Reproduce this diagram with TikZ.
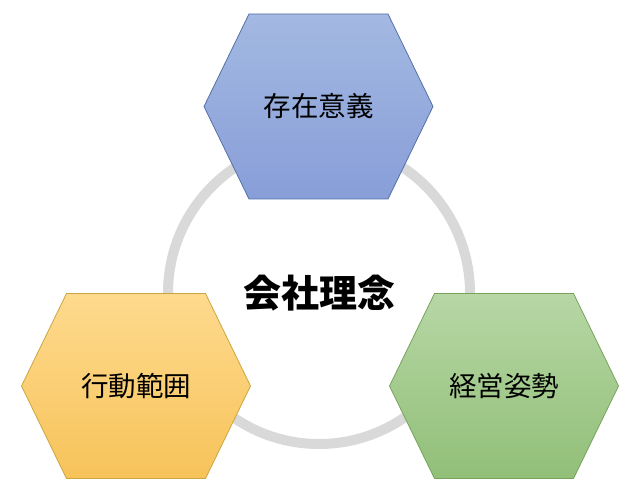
\documentclass[tikz,border=0pt]{standalone}
\usepackage{fontspec}
\newfontfamily\cjk{Noto Sans CJK JP}
\definecolor{ringgray}{HTML}{D9D9D9}
\definecolor{blueT}{HTML}{A3B9E2}
\definecolor{blueB}{HTML}{889ED8}
\definecolor{blueD}{HTML}{5470A8}
\definecolor{yelT}{HTML}{FEDA8E}
\definecolor{yelB}{HTML}{F7C35A}
\definecolor{yelD}{HTML}{C9A640}
\definecolor{grnT}{HTML}{B7D7A5}
\definecolor{grnB}{HTML}{91BF78}
\definecolor{grnD}{HTML}{77A35C}
\newcommand\myhex[7]{%
  \path[draw=#6, line width=0.8pt, top color=#4, bottom color=#5, line join=miter]
    (#1-114.5,#2) -- (#1-69.5,#2-92.5) -- (#1+69.5,#2-92.5) -- (#1+114.5,#2)
    -- (#1+69.5,#2+92.5) -- (#1-69.5,#2+92.5) -- cycle;
  \node[hexlabel] (#3) at (#1,#2) {#7};}
\tikzset{hexlabel/.style={font=\cjk\fontsize{27.5}{30}\selectfont, text=black, inner sep=0pt}}
\begin{document}
\begin{tikzpicture}[x=1pt,y=-1pt]
\useasboundingbox (0,0) rectangle (640,497);
\node[draw=ringgray, line width=10pt, circle, minimum size=302pt, inner sep=0pt] (ring) at (319,293) {};
\node[font=\cjk\bfseries\fontsize{38}{40}\selectfont, inner sep=0pt] (core) at (319,293) {会社理念};
\myhex{318.5}{106.5}{purpose}{blueT}{blueB}{blueD}{存在意義}
\myhex{136}{386}{scope}{yelT}{yelB}{yelD}{行動範囲}
\myhex{504}{386}{stance}{grnT}{grnB}{grnD}{経営姿勢}
\end{tikzpicture}
\end{document}
